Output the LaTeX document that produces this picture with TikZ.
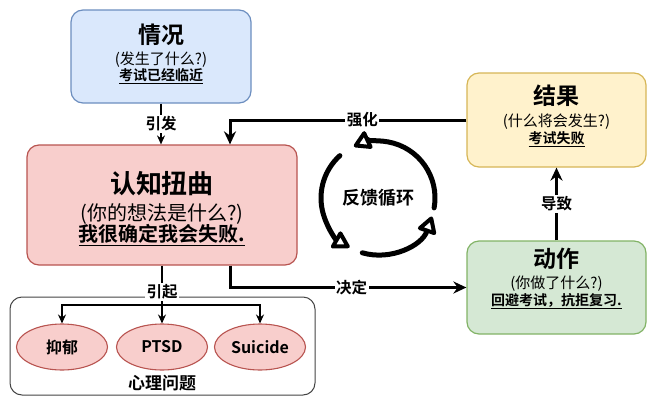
\documentclass[tikz,border=0pt]{standalone}
\usepackage{fontspec}
\setmainfont{Noto Sans CJK SC}[BoldFont={Noto Sans CJK SC Bold}]
\usetikzlibrary{arrows.meta,shapes.geometric}
\definecolor{sitfill}{HTML}{DAE8FC}\definecolor{sitline}{HTML}{6C8EBF}
\definecolor{cogfill}{HTML}{F8CECC}\definecolor{cogline}{HTML}{B85450}
\definecolor{resfill}{HTML}{FFF2CC}\definecolor{resline}{HTML}{D6B656}
\definecolor{actfill}{HTML}{D5E8D4}\definecolor{actline}{HTML}{82B366}
\definecolor{grpline}{HTML}{444444}
\newcommand{\fs}[1]{\fontsize{#1}{#1}\selectfont}
\begin{document}
\begin{tikzpicture}[x=1pt,y=-1pt,
  card/.style={draw, rounded corners=12pt, line width=1.2pt, inner sep=0pt},
  txt/.style={inner sep=0pt, anchor=center},
  elli/.style={ellipse, draw=cogline, fill=cogfill, line width=1.1pt, minimum width=91pt, minimum height=46pt, inner sep=0pt, font=\fs{16}\bfseries},
  thinarrow/.style={line width=1.3pt, -{Stealth[length=9pt,width=8pt]}},
  thickarrow/.style={line width=3pt, -{Stealth[length=13pt,width=12pt]}},
  lbl/.style={fill=white, inner sep=1.5pt, font=\fs{15.5}\bfseries},
  cyc/.style={line width=5pt, line cap=round, -{Triangle[open,length=19pt,width=21pt,line width=4pt,round,fill=white]}}
]
\useasboundingbox (0,0) rectangle (657,405);
% boxes
\node[card, draw=sitline, fill=sitfill, minimum width=180pt, minimum height=93pt] (sit) at (161,56.5) {};
\node[txt, font=\fs{23}\bfseries] (sitt) at (161,35) {情况};
\node[txt, font=\fs{15}] (sits) at (161,60) {(发生了什么?)};
\node[txt, font=\fs{14}\bfseries] (situ) at (161,76) {\underline{考试已经临近}};

\node[card, draw=cogline, fill=cogfill, minimum width=270pt, minimum height=120pt] (cog) at (162,205) {};
\node[txt, font=\fs{26}\bfseries] (cogt) at (162,184) {认知扭曲};
\node[txt, font=\fs{20}] (cogs) at (162,214) {(你的想法是什么?)};
\node[txt, font=\fs{20}\bfseries] (cogu) at (162,235) {\underline{我很确定我会失败.}};

\node[card, draw=resline, fill=resfill, minimum width=179pt, minimum height=94pt] (res) at (556.5,120) {};
\node[txt, font=\fs{23}\bfseries] (rest) at (556.5,96) {结果};
\node[txt, font=\fs{15}] (ress) at (556.5,122) {(什么将会发生?)};
\node[txt, font=\fs{14}\bfseries] (resu) at (556.5,139) {\underline{考试失败}};

\node[card, draw=actline, fill=actfill, minimum width=179pt, minimum height=93pt] (act) at (556.5,287.5) {};
\node[txt, font=\fs{23}\bfseries] (actt) at (556.5,259) {动作};
\node[txt, font=\fs{15}] (acts) at (556.5,284) {(你做了什么?)};
\node[txt, font=\fs{14}\bfseries] (actu) at (556.5,301) {\underline{回避考试，抗拒复习.}};

% group
\node[draw=grpline, rounded corners=12pt, line width=1pt, minimum width=305pt, minimum height=98pt, inner sep=0pt] (grp) at (162.5,346) {};
\node[txt, font=\fs{17}\bfseries] (grpt) at (162,383) {心理问题};
\node[elli] (dep) at (62,347) {抑郁};
\node[elli] (ptsd) at (162,347) {PTSD};
\node[elli] (sui) at (260,347) {Suicide};

% connectors
\draw[thinarrow] (sit.south) -- (sit.south |- cog.north) node[lbl, midway] {引发};
\draw[thickarrow] (res.west) -| ([xshift=68pt]cog.north) node[lbl, pos=0.22] {强化};
\draw[thickarrow] ([xshift=68pt]cog.south) |- (act.west) node[lbl, pos=0.757] {决定};
\draw[thickarrow] (act.north) -- (res.south) node[lbl, midway] {导致};
\coordinate (br) at (162,305);
\draw[thinarrow] (cog.south) -- (ptsd.north) node[lbl, pos=0.46] {引起};
\draw[thinarrow] (br) -| (dep.north);
\draw[thinarrow] (br) -| (sui.north);

% feedback loop
\coordinate (cc) at (378,198);
\node[txt, font=\fs{18}\bfseries] (cyct) at (cc) {反馈循环};
\draw[cyc] (cc) ++(10:57) arc[start angle=10, end angle=-115, radius=57];
\draw[cyc] (cc) ++(-132:57) arc[start angle=-132, end angle=-240, radius=57];
\draw[cyc] (cc) ++(-254:57) arc[start angle=-254, end angle=-341, radius=57];
\end{tikzpicture}
\end{document}
